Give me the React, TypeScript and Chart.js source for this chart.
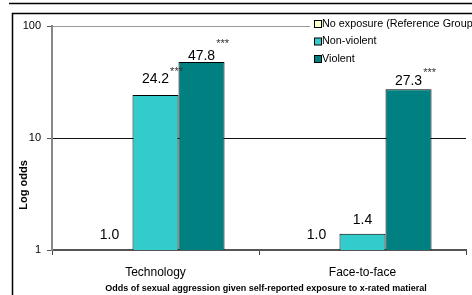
import React, { useEffect, useRef } from "react";
import { Chart, registerables } from "chart.js";

Chart.register(...registerables);

const categories = ["Technology", "Face-to-face"];
const seriesLabels = ["No exposure (Reference Group)", "Non-violent", "Violent"];
const noExposure = [1.0, 1.0];
const nonViolent = [24.2, 1.4];
const violent = [47.8, 27.3];
const noExposureSig = ["", ""];
const nonViolentSig = ["***", ""];
const violentSig = ["***", "***"];
const yTicks = [1, 10, 100];
const yTitle = "Log odds";
const xTitle = "Odds of sexual aggression given self-reported exposure to x-rated matieral";
const colors = ["#FFFFCC", "#33CCCC", "#008080"];
const sigMarks = [noExposureSig, nonViolentSig, violentSig];
// label style: gap between bar top and label baseline, and raise of the superscript
const labelGap = [[11, 11], [12, 10], [2, 4]];
const sigRaise = [[8, 8], [8, 8], [13, 9]];

const W = 472;
const H = 295;

const decorPlugin = {
  id: "decor",
  beforeDraw(chart: any) {
    const ctx = chart.ctx;
    ctx.save();
    ctx.fillStyle = "#fff";
    ctx.fillRect(0, 0, W, H);
    ctx.strokeStyle = "#000";
    ctx.lineWidth = 1.5;
    ctx.beginPath();
    ctx.moveTo(9, 3.5);
    ctx.lineTo(W, 3.5);
    ctx.stroke();
    ctx.beginPath();
    ctx.moveTo(12.5, H + 2);
    ctx.lineTo(12.5, 13.5);
    ctx.lineTo(W + 2, 13.5);
    ctx.stroke();
    ctx.restore();
  },
  afterDraw(chart: any) {
    const ctx = chart.ctx;
    ctx.save();
    // legend
    ctx.fillStyle = "#fff";
    ctx.fillRect(310, 15, W - 310, 51);
    chart.data.datasets.forEach((ds: any, i: number) => {
      const cy = 24 + i * 17.5;
      ctx.fillStyle = ds.backgroundColor;
      ctx.fillRect(314.5, cy - 3.5, 7, 7);
      ctx.strokeStyle = "#000";
      ctx.lineWidth = 1;
      ctx.strokeRect(314.5, cy - 3.5, 7, 7);
      ctx.fillStyle = "#000";
      ctx.font = "10.8px Arial";
      ctx.textAlign = "left";
      ctx.textBaseline = "middle";
      ctx.fillText(ds.label, 322, cy);
    });
    // data labels
    chart.data.datasets.forEach((ds: any, i: number) => {
      const meta = chart.getDatasetMeta(i);
      meta.data.forEach((el: any, j: number) => {
        const v = ds.data[j];
        const text = v.toFixed(1);
        ctx.font = "14px Arial";
        ctx.fillStyle = "#000";
        ctx.textAlign = "center";
        ctx.textBaseline = "alphabetic";
        const by = el.y - labelGap[i][j];
        ctx.fillText(text, el.x, by);
        const sig = sigMarks[i][j];
        if (sig) {
          const w = ctx.measureText(text).width;
          ctx.font = "11px Arial";
          ctx.textAlign = "left";
          ctx.fillStyle = "#333";
          ctx.fillText(sig, el.x + w / 2 + 1, by - sigRaise[i][j]);
        }
      });
    });
    // y title
    ctx.save();
    ctx.translate(24, 185);
    ctx.rotate(-Math.PI / 2);
    ctx.font = "bold 11px Arial";
    ctx.fillStyle = "#000";
    ctx.textAlign = "center";
    ctx.textBaseline = "middle";
    ctx.fillText(yTitle, 0, 0);
    ctx.restore();
    // x title
    ctx.font = "bold 9px Arial";
    ctx.fillStyle = "#000";
    ctx.textAlign = "center";
    ctx.textBaseline = "middle";
    ctx.fillText(xTitle, 266, 289);
    ctx.restore();
  },
};

export default function App() {
  const ref = useRef<HTMLCanvasElement | null>(null);
  useEffect(() => {
    document.body.style.margin = "0";
    const canvas = ref.current!;
    const chart = new Chart(canvas, {
      type: "bar",
      data: {
        labels: categories,
        datasets: [
          { label: seriesLabels[0], data: noExposure, backgroundColor: colors[0], borderColor: "#000", borderWidth: 1 },
          { label: seriesLabels[1], data: nonViolent, backgroundColor: colors[1], borderColor: "#000", borderWidth: 1 },
          { label: seriesLabels[2], data: violent, backgroundColor: colors[2], borderColor: "#000", borderWidth: 1 },
        ],
      },
      options: {
        responsive: false,
        animation: false,
        devicePixelRatio: 1,
        layout: { padding: { top: 26, right: 6, left: 0, bottom: 0 } },
        datasets: { bar: { categoryPercentage: 0.667, barPercentage: 1.0 } },
        plugins: { legend: { display: false }, tooltip: { enabled: false }, title: { display: false } },
        scales: {
          x: {
            type: "category",
            offset: true,
            grid: { display: true, drawOnChartArea: false, tickLength: 5, color: "#444", offset: true },
            border: { color: "#555", width: 2 },
            ticks: { font: { family: "Arial", size: 12 }, color: "#000", padding: 10 },
            afterFit: (s: any) => { s.height = 45; },
          },
          y: {
            type: "logarithmic",
            min: 1,
            max: 100,
            afterBuildTicks: (s: any) => { s.ticks = yTicks.map((v) => ({ value: v })); },
            ticks: { font: { family: "Arial", size: 11 }, color: "#000", padding: 6, callback: (v: any) => String(v) },
            grid: {
              color: (c: any) => (c.tick && c.tick.value === 10 ? "#111" : "#999"),
              tickColor: "#555",
              tickLength: 5,
            },
            border: { color: "#888", width: 2 },
            afterFit: (s: any) => { s.width = 52; },
          },
        },
      } as any,
      plugins: [decorPlugin],
    });
    return () => chart.destroy();
  }, []);
  return <canvas ref={ref} width={W} height={H} style={{ display: "block", width: W, height: H }} />;
}
